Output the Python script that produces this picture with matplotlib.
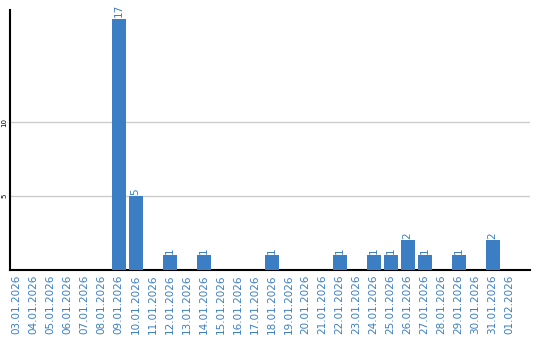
import matplotlib
matplotlib.use("Agg")
import matplotlib.pyplot as plt
import numpy as np

dates = ["03.01.2026", "04.01.2026", "05.01.2026", "06.01.2026", "07.01.2026",
         "08.01.2026", "09.01.2026", "10.01.2026", "11.01.2026", "12.01.2026",
         "13.01.2026", "14.01.2026", "15.01.2026", "16.01.2026", "17.01.2026",
         "18.01.2026", "19.01.2026", "20.01.2026", "21.01.2026", "22.01.2026",
         "23.01.2026", "24.01.2026", "25.01.2026", "26.01.2026", "27.01.2026",
         "28.01.2026", "29.01.2026", "30.01.2026", "31.01.2026", "01.02.2026"]
counts = [0, 0, 0, 0, 0, 0, 17, 5, 0, 1,
          0, 1, 0, 0, 0, 1, 0, 0, 0, 1,
          0, 1, 1, 2, 1, 0, 1, 0, 2, 0]

blue = "#3b7ec3"

fig = plt.figure(figsize=(5.4, 3.4), dpi=100)
ax = fig.add_axes([10 / 540, 70 / 340, 520 / 540, 260 / 340])

x = np.arange(len(dates))
bars = ax.bar(x, counts, width=0.82, color=blue, zorder=3)

# value labels above the non-zero bars
for xi, c in zip(x, counts):
    if c > 0:
        ax.text(xi, c + 0.1, str(c), rotation=90, ha="center", va="bottom",
                color=blue, fontsize=7.5)

ax.set_xlim(-0.39, 30.2)
ax.set_ylim(0, 17.6)
ax.set_xticks(x)
ax.set_xticklabels(dates, rotation=90, color=blue, fontsize=7.5)
ax.set_yticks([5, 10])
ax.set_yticklabels(["5", "10"], rotation=90, fontsize=5, va="center")
ax.tick_params(axis="both", length=0, pad=3)
ax.tick_params(axis="y", pad=2)

ax.grid(axis="y", color="#cccccc", linewidth=1, zorder=0)
ax.spines["top"].set_visible(False)
ax.spines["right"].set_visible(False)
ax.spines["left"].set_linewidth(1.5)
ax.spines["bottom"].set_linewidth(1.5)

fig.savefig("out.png", dpi=100)
